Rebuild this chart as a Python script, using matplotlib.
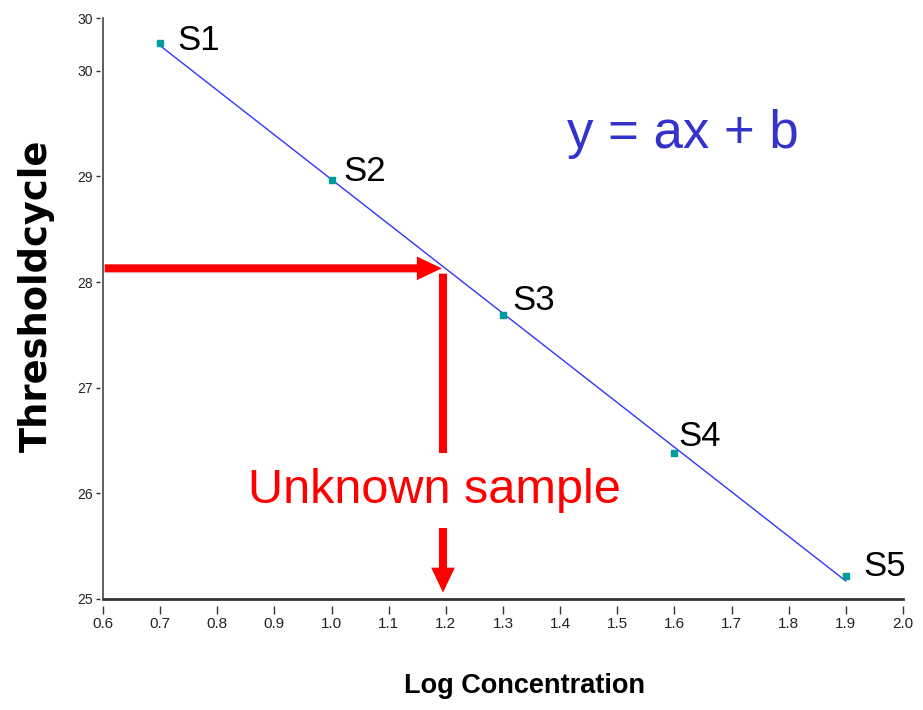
import numpy as np
import matplotlib
matplotlib.use("Agg")
import matplotlib.pyplot as plt
from matplotlib.ticker import FormatStrFormatter

# ---- data ----
standards = ["S1", "S2", "S3", "S4", "S5"]
log_conc = [0.7, 1.0, 1.3, 1.6, 1.9]
threshold_cycle = [30.26, 28.97, 27.69, 26.38, 25.22]
unknown_log_conc = 1.195
unknown_ct = 28.13
x_ticks = [0.6, 0.7, 0.8, 0.9, 1.0, 1.1, 1.2, 1.3, 1.4, 1.5, 1.6, 1.7, 1.8, 1.9, 2.0]
y_ticks = [25, 26, 27, 28, 29, 30, 30.5]
x_range = [0.6, 2.0]
y_range = [25, 30.5]

# ---- layout ----
W, H = 923, 710
fig = plt.figure(figsize=(W / 100, H / 100), dpi=100)
ax = fig.add_axes([103 / W, 1 - 599 / H, 800 / W, 581 / H])
ax.set_xlim(*x_range)
ax.set_ylim(*y_range)

sans = ["Liberation Sans", "DejaVu Sans"]

# spines: hide, draw own axis lines, ticks offset from lines
for s in ["top", "right"]:
    ax.spines[s].set_visible(False)
ax.spines["bottom"].set_position(("outward", 5))
ax.spines["left"].set_position(("outward", 2.2))
ax.spines["bottom"].set_visible(False)
ax.spines["left"].set_visible(False)
ax.axhline(y_range[0], color="#333333", lw=2.0, clip_on=False, zorder=3)
ax.axvline(x_range[0], color="#444444", lw=1.2, clip_on=False, zorder=3)

ax.set_xticks(x_ticks)
ax.set_yticks(y_ticks)
ax.xaxis.set_major_formatter(FormatStrFormatter("%.1f"))
ax.yaxis.set_major_formatter(FormatStrFormatter("%.0f"))
ax.tick_params(axis="x", direction="out", length=5.8, width=1.0, color="#333333", pad=2.5)
ax.tick_params(axis="y", direction="out", length=3, width=1.0, color="#333333", pad=2)
for lab in ax.get_xticklabels():
    lab.set_family(sans)
    lab.set_fontsize(11)
    lab.set_color("#222222")
for lab in ax.get_yticklabels():
    lab.set_family(sans)
    lab.set_fontsize(10)
    lab.set_color("#222222")

# fitted standard curve
slope, intercept = np.polyfit(log_conc, threshold_cycle, 1)
xfit = np.array([log_conc[0], log_conc[-1]])
ax.plot(xfit, slope * xfit + intercept, color="#3333ff", lw=1.0, zorder=2)

# standards
ax.plot(log_conc, threshold_cycle, linestyle="none", marker="s", markersize=4.5,
        color="#009b9b", zorder=4)
label_offsets = [(17, 3), (12, 8), (9, 14), (4, 17), (18, 9)]
for name, x, y, off in zip(standards, log_conc, threshold_cycle, label_offsets):
    ax.annotate(name, (x, y), xytext=off, textcoords="offset pixels",
                ha="left", va="center", fontsize=25, family="Liberation Sans",
                color="black")

# unknown sample arrows
arrow_style = "simple,tail_width=5.8,head_width=17,head_length=18"
ax.annotate("", xy=(unknown_log_conc - 0.002, unknown_ct), xytext=(x_range[0] + 0.003, unknown_ct),
            arrowprops=dict(arrowstyle=arrow_style, lw=0, color="#ff0000",
                            shrinkA=0, shrinkB=0, mutation_scale=1),
            zorder=5)
ax.annotate("", xy=(unknown_log_conc, y_range[0] + 0.06), xytext=(unknown_log_conc, unknown_ct - 0.05),
            arrowprops=dict(arrowstyle=arrow_style, lw=0, color="#ff0000",
                            shrinkA=0, shrinkB=0, mutation_scale=1),
            zorder=5)

fig.text(434 / W, 1 - 503 / H, "Unknown sample", ha="center", va="baseline",
         fontsize=35, family="Liberation Sans", color="#ff0000", zorder=10,
         bbox=dict(boxstyle="square,pad=0.3", fc="white", ec="none"))

fig.text(683 / W, 1 - 148 / H, "y = ax + b", ha="center", va="baseline",
         fontsize=38, family="Liberation Sans", color="#3333cc")

# axis labels
ax.set_xlabel("Log Concentration", family=sans, fontweight="bold", fontsize=19.5)
ax.xaxis.set_label_coords((525 - 103) / 800, (599 - 686) / 581)
ax.xaxis.label.set_va("center")
ax.set_ylabel("Thresholdcycle", family="DejaVu Sans", fontweight="bold", fontsize=26.5)
ax.yaxis.set_label_coords((36 - 103) / 800, (599 - 296) / 581)
ax.yaxis.label.set_va("center")

fig.savefig("out.png", dpi=100)
